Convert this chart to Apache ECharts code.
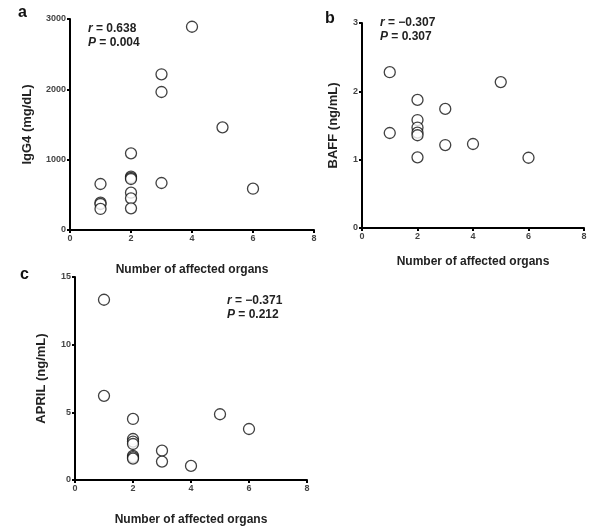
<!DOCTYPE html>
<html><head><meta charset="utf-8">
<script src="https://cdn.jsdelivr.net/npm/echarts@6/dist/echarts.min.js"></script>
<style>html,body{margin:0;padding:0;background:#fff}#c{width:600px;height:531px}</style>
</head><body><div id="c"></div>
<script>
// Panel a: IgG4 vs number of affected organs
const igg4Data = [
  [1, 654], [1, 388], [1, 370], [1, 299],
  [2, 1090], [2, 758], [2, 740], [2, 725], [2, 530], [2, 450], [2, 308],
  [3, 2214], [3, 1962], [3, 668],
  [4, 2890], [5, 1460], [6, 587]
];
// Panel b: BAFF
const baffData = [
  [1, 2.28], [1, 1.39],
  [2, 1.875], [2, 1.58], [2, 1.47], [2, 1.395], [2, 1.357], [2, 1.034],
  [3, 1.743], [3, 1.214], [4, 1.229], [5, 2.135], [6, 1.028]
];
// Panel c: APRIL
const aprilData = [
  [1, 13.32], [1, 6.22],
  [2, 4.51], [2, 3.03], [2, 2.84], [2, 2.66], [2, 1.78], [2, 1.68], [2, 1.58],
  [3, 2.17], [3, 1.36], [4, 1.04], [5, 4.86], [6, 3.77]
];
const xTitle = 'Number of affected organs';
const yTitles = ['IgG4 (mg/dL)', 'BAFF (ng/mL)', 'APRIL (ng/mL)'];
const yMax = [3000, 3, 15];
const yInterval = [1000, 1, 5];
const panelLabels = ['a', 'b', 'c'];
const stats = [['0.638', '0.004'], ['\u22120.307', '0.307'], ['\u22120.371', '0.212']];

const FONT = '"Liberation Sans", Arial, sans-serif';
const grids = [
  {left: 70, top: 19, width: 244, height: 211},
  {left: 362, top: 23, width: 222, height: 205},
  {left: 75, top: 277, width: 232, height: 203}
];
const axisLine = {show: true, onZero: false, lineStyle: {color: '#000', width: 2}};
const axisTick = {show: true, inside: false, length: 3, lineStyle: {color: '#000', width: 2}};
const axisLabel = {fontFamily: FONT, fontSize: 9, fontWeight: 'bold', color: '#444', margin: 4,
  formatter: v => String(v)};

const xAxes = grids.map((g, i) => ({
  type: 'value', gridIndex: i, min: 0, max: 8, interval: 2,
  axisLine, axisTick, axisLabel, splitLine: {show: false},
  name: xTitle, nameLocation: 'middle',
  nameGap: [34, 28, 34][i],
  nameTextStyle: {fontFamily: FONT, fontSize: 12, fontWeight: 'bold', color: '#222'}
}));
const yAxes = grids.map((g, i) => ({
  type: 'value', gridIndex: i, min: 0, max: yMax[i], interval: yInterval[i],
  axisLine, axisTick, axisLabel, splitLine: {show: false},
  name: yTitles[i], nameLocation: 'middle', nameGap: [36, 22, 27][i],
  nameTextStyle: {fontFamily: FONT, fontSize: 13, fontWeight: 'bold', color: '#222'}
}));
const datasets = [igg4Data, baffData, aprilData];
const series = datasets.map((d, i) => ({
  type: 'scatter', xAxisIndex: i, yAxisIndex: i, data: d,
  symbol: 'circle', symbolSize: 11,
  itemStyle: {color: '#fff', borderColor: '#111', borderWidth: 1.3},
  silent: true
}));
const statPos = [[88, 22], [380, 16], [227, 294]];
const labelPos = [[18, 5], [325, 11], [20, 267]];
const titles = [];
stats.forEach((s, i) => {
  titles.push({
    left: statPos[i][0], top: statPos[i][1], padding: 0,
    text: '{i|r} = ' + s[0] + '\n{i|P} = ' + s[1],
    textStyle: {
      fontFamily: FONT, fontSize: 12, fontWeight: 'bold', color: '#222', lineHeight: 14,
      rich: {i: {fontStyle: 'italic', fontFamily: FONT, fontSize: 12, fontWeight: 'bold', color: '#222', lineHeight: 14}}
    }
  });
});
panelLabels.forEach((l, i) => {
  titles.push({
    left: labelPos[i][0], top: labelPos[i][1], padding: 0, text: l,
    textStyle: {fontFamily: FONT, fontSize: 16, fontWeight: 'bold', color: '#111'}
  });
});
const chart = echarts.init(document.getElementById('c'), null, {renderer: 'canvas'});
chart.setOption({
  animation: false,
  backgroundColor: '#fff',
  title: titles,
  grid: grids,
  xAxis: xAxes,
  yAxis: yAxes,
  series
});
</script></body></html>
